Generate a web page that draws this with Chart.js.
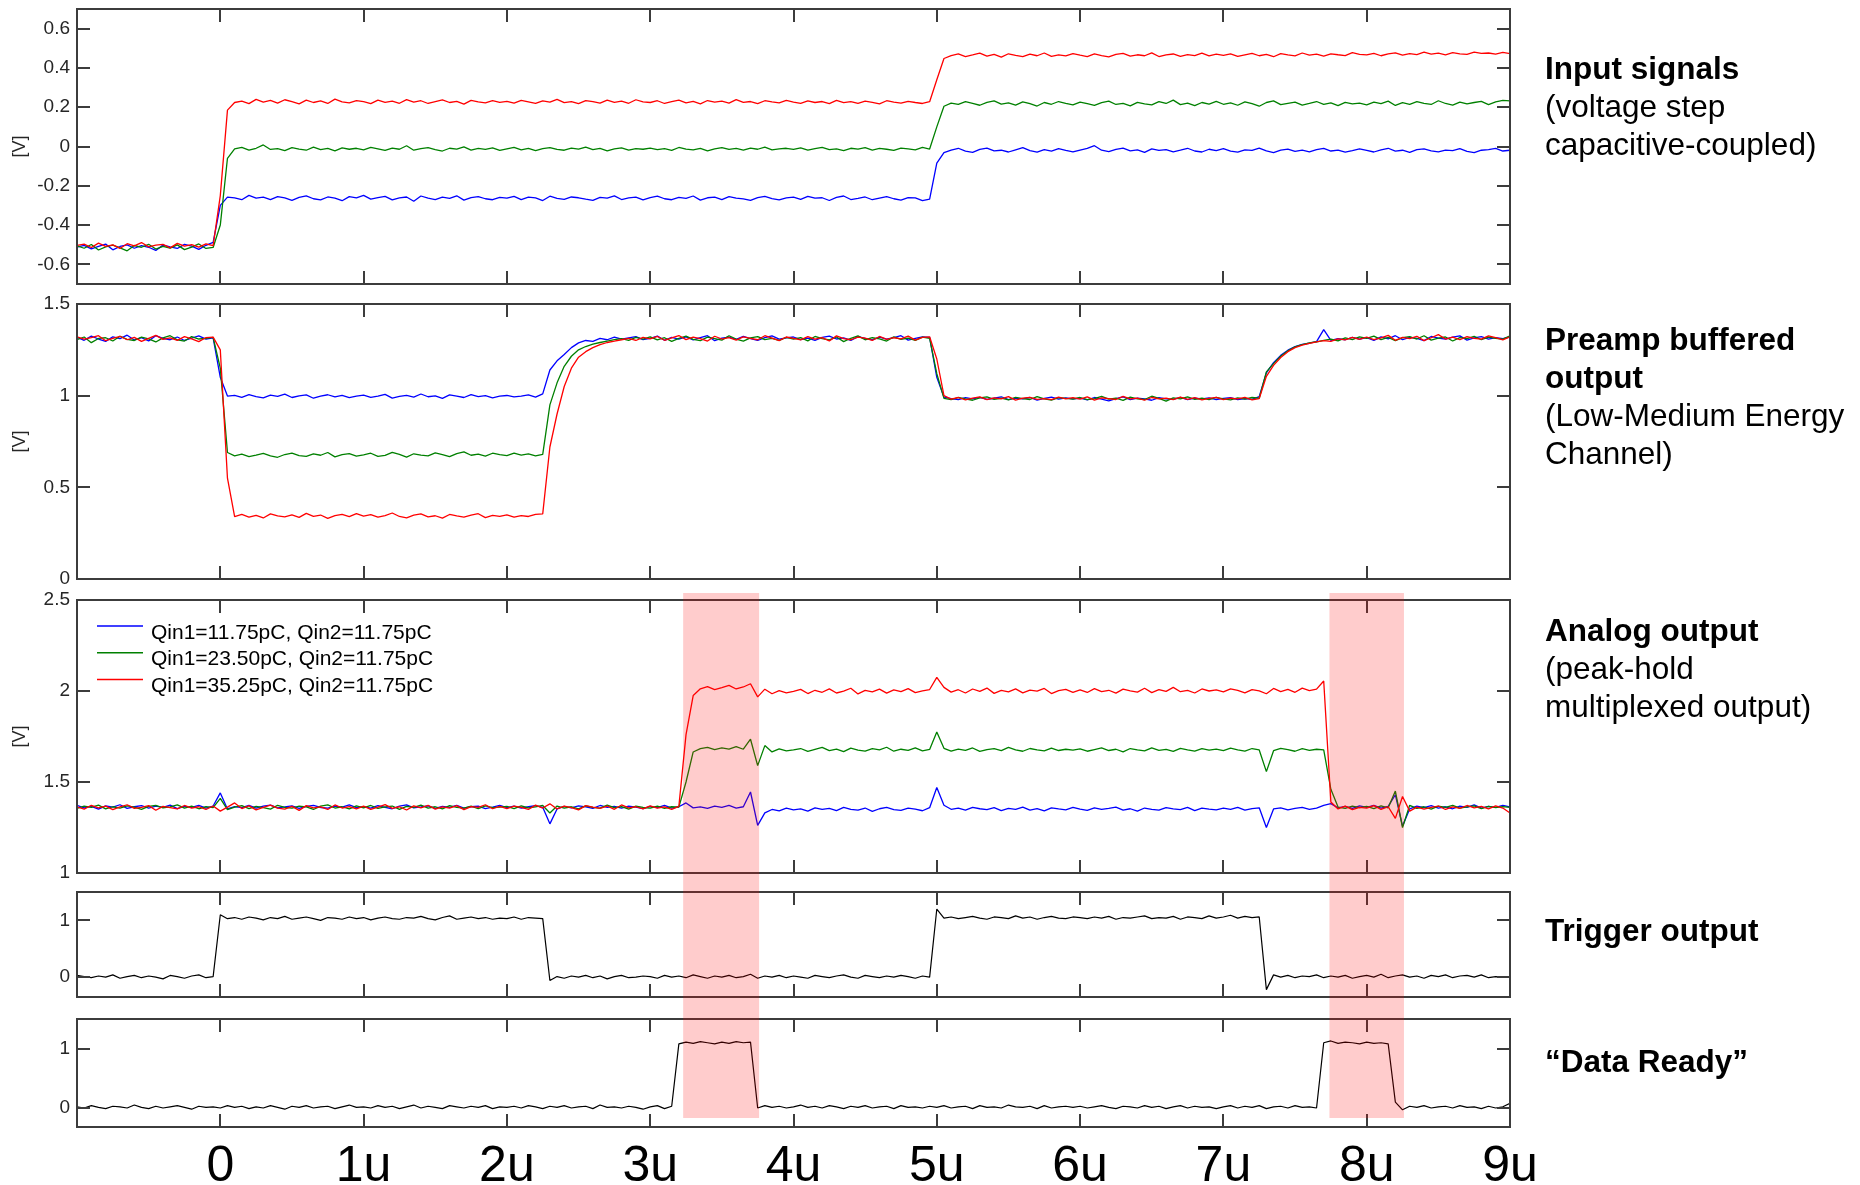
<!DOCTYPE html>
<html>
<head>
<meta charset="utf-8">
<title>Peak-hold readout timing</title>
<script src="https://cdn.jsdelivr.net/npm/chart.js@4.4.1/dist/chart.umd.min.js"></script>
<style>
  html, body { margin: 0; padding: 0; background: #fff; }
  #page { position: relative; width: 1860px; height: 1185px; overflow: hidden; font-family: "Liberation Sans", Arial, sans-serif; }
  .panel { position: absolute; left: 0; width: 1860px; }
  .panel canvas { display: block; }
  .note { position: absolute; left: 1545px; font-size: 31.5px; line-height: 38px; color: #000; white-space: nowrap; }
  .note b { font-weight: 700; }
</style>
</head>
<body>
<div id="page">
  <div class="panel" style="top:0px"><canvas id="chartInput" width="1860" height="294"></canvas></div>
  <div class="panel" style="top:294px"><canvas id="chartPreamp" width="1860" height="296"></canvas></div>
  <div class="panel" style="top:590px"><canvas id="chartAnalog" width="1860" height="293"></canvas></div>
  <div class="panel" style="top:883px"><canvas id="chartTrigger" width="1860" height="125"></canvas></div>
  <div class="panel" style="top:1008px"><canvas id="chartReady" width="1860" height="177"></canvas></div>

  <div class="note" style="top:49px"><b>Input signals</b><br>(voltage step<br>capacitive-coupled)</div>
  <div class="note" style="top:320px"><b>Preamp buffered<br>output</b><br>(Low-Medium Energy<br>Channel)</div>
  <div class="note" style="top:611px"><b>Analog output</b><br>(peak-hold<br>multiplexed output)</div>
  <div class="note" style="top:911px"><b>Trigger output</b></div>
  <div class="note" style="top:1042px"><b>“Data Ready”</b></div>
</div>

<script>
// sample instants in microseconds, one row per microsecond
const TIME_US = [
  -1,-0.95,-0.9,-0.85,-0.8,-0.75,-0.7,-0.65,-0.6,-0.55,-0.5,-0.45,-0.4,-0.35,-0.3,-0.25,-0.2,-0.15,-0.1,-0.05,
  0,0.05,0.1,0.15,0.2,0.25,0.3,0.35,0.4,0.45,0.5,0.55,0.6,0.65,0.7,0.75,0.8,0.85,0.9,0.95,
  1,1.05,1.1,1.15,1.2,1.25,1.3,1.35,1.4,1.45,1.5,1.55,1.6,1.65,1.7,1.75,1.8,1.85,1.9,1.95,
  2,2.05,2.1,2.15,2.2,2.25,2.3,2.35,2.4,2.45,2.5,2.55,2.6,2.65,2.7,2.75,2.8,2.85,2.9,2.95,
  3,3.05,3.1,3.15,3.2,3.25,3.3,3.35,3.4,3.45,3.5,3.55,3.6,3.65,3.7,3.75,3.8,3.85,3.9,3.95,
  4,4.05,4.1,4.15,4.2,4.25,4.3,4.35,4.4,4.45,4.5,4.55,4.6,4.65,4.7,4.75,4.8,4.85,4.9,4.95,
  5,5.05,5.1,5.15,5.2,5.25,5.3,5.35,5.4,5.45,5.5,5.55,5.6,5.65,5.7,5.75,5.8,5.85,5.9,5.95,
  6,6.05,6.1,6.15,6.2,6.25,6.3,6.35,6.4,6.45,6.5,6.55,6.6,6.65,6.7,6.75,6.8,6.85,6.9,6.95,
  7,7.05,7.1,7.15,7.2,7.25,7.3,7.35,7.4,7.45,7.5,7.55,7.6,7.65,7.7,7.75,7.8,7.85,7.9,7.95,
  8,8.05,8.1,8.15,8.2,8.25,8.3,8.35,8.4,8.45,8.5,8.55,8.6,8.65,8.7,8.75,8.8,8.85,8.9,8.95,9
];

const X_TICKS = [0, 1, 2, 3, 4, 5, 6, 7, 8, 9];
const X_TICK_LABELS = ['0', '1u', '2u', '3u', '4u', '5u', '6u', '7u', '8u', '9u'];

const SERIES_LABELS = [
  'Qin1=11.75pC, Qin2=11.75pC',
  'Qin1=23.50pC, Qin2=11.75pC',
  'Qin1=35.25pC, Qin2=11.75pC'
];

// peak-hold readout windows (µs)
const HOLD_WINDOWS_US = [[3.23, 3.76], [7.74, 8.26]];

const Y_TICKS_INPUT = [-0.6, -0.4, -0.2, 0, 0.2, 0.4, 0.6];
const Y_TICKS_PREAMP = [0, 0.5, 1, 1.5];
const Y_TICKS_ANALOG = [1, 1.5, 2, 2.5];
const Y_TICKS_LOGIC = [0, 1];

// input voltage steps [V]
const IN_BLUE = [
  -0.512,-0.503,-0.521,-0.508,-0.497,-0.526,-0.509,-0.501,-0.518,-0.505,-0.513,-0.529,-0.502,-0.511,-0.519,-0.498,-0.507,-0.524,-0.503,-0.488,
  -0.300,-0.258,-0.262,-0.271,-0.249,-0.263,-0.258,-0.270,-0.255,-0.262,-0.274,-0.259,-0.251,-0.266,-0.272,-0.257,-0.263,-0.276,-0.255,-0.261,
  -0.249,-0.268,-0.260,-0.254,-0.272,-0.262,-0.257,-0.279,-0.252,-0.263,-0.270,-0.258,-0.264,-0.251,-0.273,-0.260,-0.255,-0.266,-0.271,-0.259,
  -0.263,-0.254,-0.270,-0.258,-0.262,-0.275,-0.253,-0.264,-0.269,-0.257,-0.261,-0.268,-0.274,-0.259,-0.263,-0.251,-0.270,-0.262,-0.258,-0.272,
  -0.260,-0.253,-0.266,-0.271,-0.259,-0.264,-0.252,-0.273,-0.261,-0.258,-0.270,-0.255,-0.263,-0.267,-0.274,-0.260,-0.254,-0.265,-0.272,-0.262,
  -0.258,-0.269,-0.254,-0.263,-0.261,-0.275,-0.259,-0.252,-0.270,-0.264,-0.257,-0.271,-0.263,-0.255,-0.266,-0.273,-0.260,-0.262,-0.276,-0.268,
  -0.085,-0.031,-0.018,-0.009,-0.024,-0.030,-0.015,-0.008,-0.022,-0.019,-0.028,-0.017,-0.006,-0.021,-0.029,-0.016,-0.023,-0.011,-0.020,-0.027,
  -0.018,-0.010,0.004,-0.019,-0.026,-0.015,-0.008,-0.022,-0.017,-0.030,-0.012,-0.020,-0.016,-0.027,-0.019,-0.009,-0.023,-0.028,-0.014,-0.021,
  -0.011,-0.024,-0.029,-0.017,-0.020,-0.008,-0.022,-0.031,-0.018,-0.013,-0.025,-0.019,-0.027,-0.016,-0.010,-0.023,-0.018,-0.029,-0.021,-0.012,
  -0.020,-0.028,-0.017,-0.009,-0.024,-0.019,-0.030,-0.016,-0.012,-0.022,-0.027,-0.018,-0.021,-0.011,-0.025,-0.031,-0.019,-0.016,-0.010,-0.023,-0.019
];
const IN_GREEN = [
  -0.506,-0.518,-0.499,-0.527,-0.511,-0.502,-0.516,-0.531,-0.504,-0.513,-0.498,-0.522,-0.509,-0.517,-0.501,-0.525,-0.512,-0.496,-0.519,-0.514,
  -0.400,-0.060,-0.012,-0.004,-0.018,-0.009,0.008,-0.015,-0.011,-0.021,-0.006,-0.013,-0.019,-0.003,-0.016,-0.010,-0.022,-0.007,-0.014,-0.009,
  -0.017,-0.005,-0.012,-0.020,-0.008,-0.014,0.004,-0.019,-0.011,-0.006,-0.016,-0.023,-0.009,-0.013,-0.002,-0.018,-0.010,-0.015,-0.007,-0.020,
  -0.012,-0.004,-0.017,-0.009,-0.021,-0.011,-0.006,-0.015,-0.019,-0.008,-0.013,-0.003,-0.016,-0.010,-0.022,-0.012,-0.007,-0.018,-0.011,-0.014,
  -0.008,-0.016,-0.011,-0.020,-0.005,-0.013,-0.017,-0.009,-0.022,-0.012,-0.006,-0.015,-0.010,-0.019,-0.008,-0.014,-0.003,-0.017,-0.012,-0.009,
  -0.015,-0.007,-0.019,-0.011,-0.004,-0.016,-0.012,-0.021,-0.009,-0.013,-0.006,-0.018,-0.010,-0.014,-0.020,-0.008,-0.012,-0.017,-0.005,-0.013,
  0.100,0.205,0.221,0.214,0.228,0.219,0.210,0.225,0.232,0.216,0.222,0.211,0.227,0.218,0.206,0.224,0.215,0.229,0.220,0.212,
  0.226,0.218,0.209,0.223,0.231,0.214,0.220,0.207,0.225,0.217,0.212,0.228,0.219,0.236,0.213,0.221,0.208,0.224,0.216,0.230,
  0.215,0.222,0.210,0.227,0.218,0.205,0.224,0.232,0.213,0.220,0.226,0.211,0.219,0.229,0.214,0.222,0.208,0.225,0.217,0.221,
  0.212,0.226,0.218,0.231,0.209,0.223,0.215,0.228,0.220,0.214,0.233,0.219,0.211,0.226,0.217,0.224,0.230,0.213,0.227,0.235,0.232
];
const IN_RED = [
  -0.503,-0.497,-0.514,-0.492,-0.508,-0.501,-0.519,-0.495,-0.506,-0.489,-0.511,-0.502,-0.498,-0.516,-0.493,-0.507,-0.500,-0.512,-0.496,-0.505,
  -0.250,0.185,0.224,0.231,0.218,0.240,0.226,0.235,0.221,0.238,0.229,0.217,0.236,0.224,0.232,0.219,0.241,0.227,0.222,0.234,
  0.228,0.218,0.236,0.225,0.231,0.220,0.239,0.226,0.233,0.219,0.228,0.237,0.224,0.230,0.216,0.235,0.227,0.222,0.233,0.225,
  0.230,0.221,0.235,0.227,0.219,0.232,0.226,0.240,0.223,0.229,0.218,0.234,0.228,0.221,0.236,0.225,0.231,0.220,0.238,0.227,
  0.224,0.233,0.219,0.228,0.236,0.222,0.230,0.217,0.234,0.226,0.231,0.221,0.239,0.225,0.229,0.218,0.233,0.227,0.222,0.235,
  0.226,0.219,0.232,0.224,0.229,0.218,0.235,0.223,0.228,0.220,0.231,0.225,0.217,0.233,0.226,0.221,0.230,0.224,0.219,0.228,
  0.340,0.448,0.463,0.471,0.458,0.466,0.475,0.460,0.469,0.455,0.472,0.464,0.457,0.470,0.462,0.476,0.459,0.467,0.461,0.473,
  0.465,0.458,0.471,0.463,0.456,0.469,0.474,0.460,0.467,0.462,0.477,0.458,0.466,0.471,0.459,0.468,0.463,0.475,0.461,0.470,
  0.464,0.472,0.459,0.467,0.474,0.462,0.469,0.457,0.473,0.466,0.461,0.476,0.465,0.470,0.460,0.472,0.467,0.463,0.478,0.469,
  0.466,0.474,0.462,0.471,0.477,0.465,0.473,0.468,0.480,0.470,0.475,0.467,0.478,0.472,0.469,0.481,0.474,0.476,0.470,0.479,0.473
];

// preamp buffered output [V]
const PRE_BLUE = [
  1.318,1.302,1.325,1.309,1.296,1.321,1.311,1.330,1.304,1.316,1.299,1.327,1.312,1.305,1.320,1.301,1.314,1.326,1.308,1.315,
  1.100,0.998,1.002,0.991,1.006,0.995,0.988,1.003,0.996,1.008,0.990,0.999,1.004,0.986,0.997,1.005,0.993,1.001,0.989,0.998,
  1.003,0.991,0.998,1.007,0.987,0.996,1.002,0.992,1.009,0.994,0.999,0.985,1.004,0.997,0.990,1.006,0.995,1.000,0.988,0.997,
  1.001,0.993,0.998,1.004,0.992,1.010,1.140,1.190,1.225,1.262,1.288,1.301,1.296,1.312,1.305,1.319,1.308,1.315,1.322,1.306,
  1.313,1.325,1.302,1.318,1.309,1.321,1.304,1.316,1.327,1.300,1.314,1.319,1.307,1.323,1.311,1.301,1.317,1.326,1.308,1.315,
  1.320,1.306,1.314,1.302,1.318,1.325,1.309,1.315,1.301,1.322,1.312,1.304,1.319,1.308,1.316,1.327,1.303,1.313,1.321,1.318,
  1.100,0.992,0.984,0.978,0.989,0.983,0.991,0.980,0.986,0.994,0.979,0.987,0.982,0.990,0.976,0.985,0.992,0.981,0.988,0.983,
  0.986,0.977,0.990,0.981,0.972,0.984,0.993,0.979,0.987,0.982,0.975,0.989,0.983,0.980,0.991,0.978,0.986,0.982,0.988,0.979,
  0.985,0.989,0.978,0.984,0.980,0.995,1.125,1.180,1.220,1.248,1.268,1.280,1.286,1.295,1.360,1.302,1.311,1.305,1.318,1.309,
  1.316,1.302,1.321,1.310,1.327,1.305,1.318,1.312,1.300,1.323,1.314,1.308,1.319,1.326,1.303,1.315,1.322,1.309,1.317,1.311,1.320
];
const PRE_GREEN = [
  1.305,1.320,1.289,1.312,1.316,1.298,1.324,1.307,1.301,1.319,1.310,1.293,1.315,1.327,1.304,1.298,1.322,1.309,1.313,1.318,
  1.150,0.690,0.672,0.681,0.668,0.676,0.685,0.671,0.664,0.679,0.687,0.673,0.669,0.682,0.675,0.690,0.666,0.678,0.684,0.670,
  0.677,0.686,0.669,0.674,0.691,0.680,0.665,0.683,0.676,0.672,0.688,0.679,0.667,0.684,0.693,0.675,0.681,0.670,0.686,0.678,
  0.673,0.687,0.676,0.682,0.671,0.680,0.950,1.070,1.160,1.215,1.250,1.268,1.281,1.290,1.298,1.306,1.311,1.302,1.318,1.309,
  1.321,1.304,1.316,1.296,1.312,1.325,1.307,1.300,1.319,1.311,1.303,1.327,1.309,1.298,1.315,1.322,1.306,1.313,1.301,1.318,
  1.308,1.317,1.299,1.323,1.311,1.304,1.320,1.295,1.313,1.326,1.305,1.316,1.310,1.298,1.321,1.307,1.314,1.302,1.319,1.312,
  1.120,0.985,0.978,0.990,0.982,0.975,0.988,0.993,0.980,0.986,0.977,0.991,0.984,0.979,0.995,0.983,0.976,0.989,0.985,0.981,
  0.990,0.978,0.984,0.996,0.981,0.987,0.974,0.992,0.983,0.979,0.997,0.985,0.970,0.988,0.982,0.993,0.980,0.986,0.978,0.991,
  0.983,0.977,0.988,0.981,0.990,0.986,1.130,1.175,1.215,1.245,1.266,1.279,1.288,1.294,1.301,1.308,1.299,1.315,1.306,1.321,
  1.312,1.325,1.306,1.318,1.300,1.316,1.322,1.309,1.327,1.303,1.314,1.320,1.298,1.317,1.311,1.324,1.305,1.319,1.313,1.308,1.326
];
const PRE_RED = [
  1.321,1.308,1.316,1.327,1.300,1.312,1.324,1.305,1.318,1.296,1.313,1.329,1.307,1.315,1.302,1.322,1.310,1.295,1.317,1.319,
  1.250,0.550,0.340,0.352,0.338,0.347,0.333,0.355,0.344,0.339,0.350,0.336,0.358,0.342,0.349,0.331,0.346,0.353,0.340,0.357,
  0.343,0.351,0.337,0.346,0.360,0.341,0.334,0.348,0.355,0.339,0.345,0.332,0.352,0.344,0.338,0.349,0.356,0.335,0.347,0.342,
  0.350,0.337,0.346,0.341,0.353,0.355,0.720,0.900,1.050,1.150,1.210,1.240,1.262,1.278,1.290,1.297,1.305,1.312,1.301,1.318,
  1.310,1.323,1.302,1.315,1.328,1.306,1.319,1.311,1.298,1.324,1.309,1.316,1.303,1.321,1.312,1.305,1.327,1.314,1.300,1.320,
  1.313,1.304,1.322,1.309,1.317,1.298,1.326,1.311,1.305,1.319,1.314,1.301,1.323,1.307,1.316,1.310,1.325,1.303,1.318,1.321,
  1.200,1.000,0.981,0.990,0.977,0.986,0.993,0.979,0.988,0.982,0.995,0.976,0.987,0.991,0.980,0.984,0.978,0.992,0.983,0.989,
  0.981,0.993,0.976,0.988,0.984,0.979,0.996,0.982,0.987,0.975,0.990,0.983,0.986,0.978,0.992,0.980,0.989,0.977,0.985,0.991,
  0.978,0.986,0.982,0.991,0.977,0.984,1.105,1.165,1.208,1.240,1.262,1.276,1.285,1.293,1.300,1.296,1.310,1.304,1.318,1.307,
  1.320,1.306,1.315,1.329,1.302,1.318,1.311,1.324,1.300,1.316,1.333,1.309,1.319,1.305,1.322,1.313,1.308,1.326,1.317,1.304,1.321
];

// peak-hold analog output [V]
const ANA_BLUE = [
  1.372,1.358,1.366,1.351,1.369,1.362,1.375,1.355,1.364,1.370,1.357,1.367,1.361,1.373,1.354,1.366,1.360,1.371,1.356,1.368,
  1.440,1.352,1.365,1.359,1.371,1.356,1.367,1.373,1.358,1.363,1.369,1.355,1.366,1.372,1.360,1.357,1.368,1.362,1.374,1.359,
  1.365,1.356,1.370,1.361,1.353,1.367,1.374,1.358,1.363,1.369,1.355,1.366,1.360,1.372,1.357,1.364,1.368,1.354,1.362,1.371,
  1.359,1.367,1.356,1.364,1.370,1.361,1.270,1.352,1.366,1.358,1.369,1.363,1.355,1.371,1.360,1.366,1.357,1.368,1.362,1.354,
  1.366,1.359,1.372,1.356,1.364,1.385,1.358,1.363,1.355,1.367,1.360,1.371,1.357,1.364,1.445,1.262,1.330,1.349,1.341,1.356,
  1.347,1.352,1.340,1.358,1.349,1.355,1.343,1.361,1.350,1.346,1.357,1.339,1.353,1.360,1.348,1.344,1.356,1.351,1.342,1.359,
  1.470,1.372,1.350,1.357,1.345,1.361,1.353,1.348,1.359,1.343,1.355,1.350,1.362,1.346,1.354,1.341,1.358,1.352,1.347,1.360,
  1.351,1.344,1.358,1.349,1.355,1.362,1.346,1.353,1.340,1.357,1.350,1.345,1.359,1.352,1.348,1.361,1.343,1.356,1.351,1.347,
  1.356,1.349,1.360,1.345,1.354,1.358,1.250,1.352,1.358,1.347,1.355,1.361,1.350,1.357,1.372,1.381,1.358,1.366,1.355,1.369,
  1.361,1.372,1.357,1.366,1.430,1.258,1.352,1.367,1.359,1.370,1.356,1.364,1.353,1.368,1.361,1.374,1.357,1.366,1.360,1.371,1.363
];
const ANA_GREEN = [
  1.355,1.368,1.360,1.373,1.352,1.364,1.357,1.369,1.362,1.350,1.366,1.371,1.358,1.363,1.374,1.356,1.367,1.353,1.365,1.359,
  1.410,1.348,1.362,1.370,1.354,1.366,1.359,1.351,1.372,1.361,1.356,1.368,1.363,1.349,1.367,1.374,1.357,1.364,1.352,1.369,
  1.358,1.371,1.355,1.363,1.368,1.350,1.366,1.360,1.373,1.356,1.364,1.352,1.370,1.361,1.357,1.367,1.353,1.369,1.359,1.362,
  1.366,1.354,1.369,1.358,1.363,1.371,1.330,1.368,1.357,1.364,1.352,1.369,1.361,1.356,1.373,1.359,1.365,1.351,1.367,1.360,
  1.357,1.368,1.355,1.364,1.362,1.500,1.665,1.683,1.690,1.678,1.687,1.681,1.694,1.680,1.735,1.590,1.700,1.665,1.682,1.671,
  1.676,1.684,1.668,1.679,1.690,1.672,1.681,1.667,1.686,1.675,1.670,1.683,1.677,1.691,1.669,1.680,1.674,1.688,1.671,1.679,
  1.775,1.685,1.670,1.681,1.674,1.687,1.668,1.678,1.683,1.672,1.690,1.676,1.669,1.684,1.677,1.671,1.686,1.673,1.680,1.675,
  1.682,1.669,1.678,1.687,1.673,1.680,1.666,1.684,1.676,1.671,1.688,1.674,1.679,1.668,1.685,1.677,1.670,1.683,1.675,1.681,
  1.673,1.686,1.677,1.670,1.684,1.676,1.557,1.672,1.685,1.678,1.669,1.683,1.674,1.680,1.677,1.460,1.362,1.355,1.368,1.359,
  1.366,1.354,1.369,1.358,1.450,1.250,1.372,1.355,1.364,1.351,1.367,1.360,1.372,1.356,1.363,1.369,1.354,1.366,1.359,1.365,1.361
];
const ANA_RED = [
  1.364,1.351,1.372,1.358,1.367,1.348,1.363,1.375,1.355,1.361,1.370,1.345,1.366,1.359,1.352,1.371,1.357,1.364,1.349,1.368,
  1.340,1.362,1.385,1.354,1.369,1.347,1.360,1.373,1.356,1.351,1.366,1.344,1.370,1.358,1.363,1.349,1.374,1.357,1.365,1.352,
  1.367,1.350,1.362,1.376,1.355,1.364,1.346,1.369,1.358,1.372,1.351,1.363,1.357,1.370,1.348,1.365,1.360,1.375,1.353,1.366,
  1.354,1.368,1.361,1.349,1.373,1.357,1.380,1.352,1.367,1.359,1.347,1.370,1.362,1.355,1.368,1.350,1.374,1.358,1.364,1.352,
  1.369,1.356,1.363,1.350,1.366,1.760,1.975,2.012,2.024,2.008,2.019,2.031,2.011,2.022,2.040,1.968,2.010,1.985,2.002,1.990,
  1.998,2.009,1.986,2.004,1.993,2.012,1.989,1.999,2.015,1.984,2.003,1.995,2.010,1.988,2.006,1.997,2.013,1.991,2.001,2.008,
  2.075,2.020,1.994,2.007,1.989,2.011,1.998,2.016,1.987,2.003,1.995,2.012,1.990,2.005,1.999,2.014,1.986,2.002,2.009,1.993,
  2.006,1.992,2.013,1.997,2.004,1.988,2.010,2.001,1.994,2.015,1.991,2.007,1.998,2.020,1.996,2.003,1.989,2.011,2.000,2.006,
  1.995,2.012,2.003,1.990,2.008,2.001,1.985,2.014,1.997,2.009,1.993,2.016,2.002,2.010,2.055,1.390,1.352,1.367,1.348,1.361,
  1.357,1.370,1.349,1.364,1.300,1.420,1.340,1.362,1.351,1.360,1.368,1.349,1.363,1.355,1.371,1.358,1.366,1.352,1.369,1.357,1.330
];

// logic outputs (normalised)
const TRIGGER = [
  0.03,0.01,-0.01,0.02,0,0.04,-0.02,0.01,0.03,-0.01,0.02,0,-0.03,0.03,0.01,-0.02,0.02,0.04,-0.01,0.01,
  1.10,1.03,1.05,1.02,1.06,1.04,1.01,1.05,1.03,1.07,1.02,1.04,1.06,1.03,1.00,1.05,1.04,1.02,1.06,1.03,
  1.05,1.01,1.04,1.06,1.03,1.02,1.05,1.04,1.07,1.03,1.01,1.05,1.08,1.02,1.04,1.06,1.03,1.05,1.02,1.04,
  1.03,1.06,1.02,1.05,1.04,1.03,-0.06,0.01,-0.02,0.02,0,0.03,-0.01,0.02,-0.03,0.01,0.03,-0.01,0,0.02,
  0.01,-0.02,0.03,0,0.02,-0.01,0.04,0.01,-0.02,0.02,0,0.03,-0.01,0.01,0.05,-0.02,0.02,0,0.03,-0.01,
  0.02,0,-0.02,0.03,0.01,-0.01,0.02,0.04,0,-0.02,0.03,0.01,-0.01,0.02,0,0.03,0.01,-0.02,0.02,0,
  1.20,1.04,1.06,1.03,1.05,1.07,1.04,1.02,1.06,1.05,1.03,1.08,1.04,1.06,1.02,1.05,1.07,1.04,1.03,1.06,
  1.05,1.03,1.06,1.04,1.07,1.02,1.05,1.04,1.06,1.08,1.03,1.05,1.04,1.07,1.02,1.06,1.05,1.03,1.08,1.04,
  1.06,1.09,1.04,1.07,1.05,1.06,-0.22,0.04,0,0.03,-0.01,0.02,0.01,0.04,-0.01,0.02,0,0.03,-0.02,0.01,
  0.03,0,0.05,-0.01,0.02,0.04,0,0.02,-0.02,0.03,0.01,0.04,-0.01,0.02,0.03,0,0.04,-0.01,0.01,0,0.01
];
const DATA_READY = [
  0.02,0,0.04,0.01,-0.01,0.03,0.02,0,0.05,0.01,-0.01,0.03,0,0.02,0.04,0.01,-0.02,0.03,0.01,0.02,
  0,0.04,0.01,0.03,-0.01,0.02,0,0.04,0.01,-0.02,0.03,0.01,0.04,0,0.02,0.03,-0.01,0.02,0.05,0.01,
  0.02,0,0.04,0.01,0.03,-0.01,0.02,0.05,0,0.03,0.01,-0.01,0.04,0.02,0,0.03,0.01,0.04,-0.01,0.02,
  0.01,0.03,0,0.04,0.02,-0.01,0.03,0.01,0.04,0,0.02,0.03,-0.01,0.05,0.01,0.02,0,0.03,0.01,-0.02,
  0.02,0.04,-0.01,0.03,1.08,1.11,1.09,1.12,1.10,1.08,1.11,1.09,1.12,1.10,1.11,0,0.04,0.01,0.03,0,
  0.02,0.05,0.01,0.03,0,0.04,0.02,-0.01,0.03,0.01,0.04,0,0.02,0.03,-0.01,0.04,0.01,0.02,0,0.03,
  0.01,0.04,0,0.02,0.03,-0.01,0.04,0.01,0.02,0,0.05,0.02,0.01,0.03,-0.01,0.04,0,0.02,0.03,0.01,
  0.03,0,0.02,0.04,0.01,-0.01,0.03,0.02,0,0.04,0.01,0.03,-0.01,0.02,0.04,0,0.03,0.01,0.02,-0.01,
  0.02,0.04,0,0.03,0.01,0.04,-0.01,0.02,0.03,0,0.04,0.01,0.02,0,1.10,1.13,1.09,1.11,1.10,1.08,
  1.11,1.09,1.10,1.08,0.10,-0.03,0.03,0.01,0.04,0,0.02,0.03,0,0.04,0.01,0.02,-0.01,0.03,0,0.02,0.08
];

Chart.defaults.font.family = '"Liberation Sans", Arial, sans-serif';

const TRACE_COLORS = ['#0000ff', '#008000', '#ff0000'];
const FRAME_COLOR = '#3c3c3c';

// box around the plot area with inward ticks on all four sides
const panelFrame = {
  id: 'panelFrame',
  afterDatasetsDraw(chart) {
    const { ctx, chartArea: a, scales: { x, y } } = chart;
    const len = 13;
    ctx.save();
    ctx.strokeStyle = FRAME_COLOR;
    ctx.lineWidth = 2;
    ctx.beginPath();
    X_TICKS.forEach(v => {
      const px = Math.round(x.getPixelForValue(v));
      ctx.moveTo(px, a.top); ctx.lineTo(px, a.top + len);
      ctx.moveTo(px, a.bottom); ctx.lineTo(px, a.bottom - len);
    });
    y.ticks.forEach(t => {
      const py = Math.round(y.getPixelForValue(t.value));
      if (py <= a.top + 1 || py >= a.bottom - 1) return;
      ctx.moveTo(a.left, py); ctx.lineTo(a.left + len, py);
      ctx.moveTo(a.right, py); ctx.lineTo(a.right - len, py);
    });
    ctx.stroke();
    ctx.strokeRect(a.left, a.top, a.right - a.left, a.bottom - a.top);
    ctx.restore();
  }
};

// legend drawn inside the plot, line samples level with the text tops
const inlineLegend = {
  id: 'inlineLegend',
  afterDraw(chart, args, opts) {
    if (!opts.show) return;
    const ctx = chart.ctx;
    ctx.save();
    ctx.font = '21px "Liberation Sans", Arial, sans-serif';
    ctx.textBaseline = 'middle';
    ctx.textAlign = 'left';
    chart.data.datasets.forEach((ds, i) => {
      const yy = opts.y + i * opts.rowHeight;
      ctx.strokeStyle = ds.borderColor;
      ctx.lineWidth = 1.5;
      ctx.beginPath();
      ctx.moveTo(opts.x, yy);
      ctx.lineTo(opts.x + opts.lineLength, yy);
      ctx.stroke();
      ctx.fillStyle = '#000';
      ctx.fillText(ds.label, opts.x + opts.lineLength + 8, yy + 7);
    });
    ctx.restore();
  }
};

// translucent band over the readout windows
const holdShade = {
  id: 'holdShade',
  afterDraw(chart, args, opts) {
    if (!opts.show) return;
    const { ctx, scales: { x } } = chart;
    ctx.save();
    ctx.fillStyle = 'rgba(255, 0, 0, 0.2)';
    HOLD_WINDOWS_US.forEach(([t0, t1]) => {
      const a = x.getPixelForValue(t0);
      const b = x.getPixelForValue(t1);
      ctx.fillRect(a, opts.top, b - a, opts.bottom - opts.top);
    });
    ctx.restore();
  }
};

function colouredTraces(series) {
  return series.map((values, i) => ({
    label: SERIES_LABELS[i],
    data: values,
    borderColor: TRACE_COLORS[i],
    backgroundColor: TRACE_COLORS[i],
    borderWidth: 1.3,
    order: 3 - i
  }));
}

function blackTrace(values) {
  return [{ label: '', data: values, borderColor: '#000', backgroundColor: '#000', borderWidth: 1.2 }];
}

function makePanel(canvasId, cfg) {
  const showX = !!cfg.xLabels;
  return new Chart(document.getElementById(canvasId), {
    type: 'line',
    data: { labels: TIME_US, datasets: cfg.datasets },
    plugins: [panelFrame, inlineLegend, holdShade],
    options: {
      responsive: false,
      devicePixelRatio: 1,
      animation: false,
      events: [],
      layout: { padding: { top: cfg.padTop, bottom: cfg.padBottom, left: 0, right: 350 } },
      elements: {
        point: { radius: 0 },
        line: { tension: 0, fill: false, borderJoinStyle: 'bevel' }
      },
      scales: {
        x: {
          type: 'linear',
          min: -1,
          max: 9,
          display: showX,
          position: 'bottom',
          grid: { display: false, drawTicks: false },
          border: { display: false },
          ticks: {
            autoSkip: false,
            maxRotation: 0,
            padding: 10,
            color: '#000',
            font: { size: 50 },
            callback: (v, i) => X_TICK_LABELS[i]
          },
          afterBuildTicks: s => { s.ticks = X_TICKS.map(v => ({ value: v })); },
          afterFit: s => {
            s.paddingLeft = 0;
            s.paddingRight = 0;
            if (showX) s.height = 58;
          }
        },
        y: {
          min: cfg.min,
          max: cfg.max,
          position: 'left',
          grid: { display: false, drawTicks: false },
          border: { display: false },
          ticks: {
            padding: 7,
            color: '#262626',
            font: { size: 19 },
            callback: v => String(v)
          },
          title: {
            display: !!cfg.title,
            text: cfg.title || '',
            color: '#262626',
            font: { size: 18 },
            padding: { top: 9, bottom: 0 }
          },
          afterBuildTicks: s => { s.ticks = cfg.yTicks.map(v => ({ value: v })); },
          afterFit: s => {
            s.width = 77;
            s.paddingTop = 0;
            s.paddingBottom = 0;
          }
        }
      },
      plugins: {
        legend: { display: false },
        tooltip: { enabled: false },
        inlineLegend: cfg.legend || { show: false },
        holdShade: cfg.shade || { show: false }
      }
    }
  });
}

makePanel('chartInput', {
  datasets: colouredTraces([IN_BLUE, IN_GREEN, IN_RED]),
  min: -0.7, max: 0.7, yTicks: Y_TICKS_INPUT, title: '[V]',
  padTop: 9, padBottom: 10
});

makePanel('chartPreamp', {
  datasets: colouredTraces([PRE_BLUE, PRE_GREEN, PRE_RED]),
  min: 0, max: 1.5, yTicks: Y_TICKS_PREAMP, title: '[V]',
  padTop: 10, padBottom: 11
});

makePanel('chartAnalog', {
  datasets: colouredTraces([ANA_BLUE, ANA_GREEN, ANA_RED]),
  min: 1, max: 2.5, yTicks: Y_TICKS_ANALOG, title: '[V]',
  padTop: 10, padBottom: 10,
  legend: { show: true, x: 97, y: 36, lineLength: 46, rowHeight: 26.7 },
  shade: { show: true, top: 3, bottom: 293 }
});

makePanel('chartTrigger', {
  datasets: blackTrace(TRIGGER),
  min: -0.35, max: 1.5, yTicks: Y_TICKS_LOGIC,
  padTop: 9, padBottom: 11,
  shade: { show: true, top: 0, bottom: 125 }
});

makePanel('chartReady', {
  datasets: blackTrace(DATA_READY),
  min: -0.32, max: 1.5, yTicks: Y_TICKS_LOGIC,
  padTop: 11, padBottom: 0,
  xLabels: true,
  shade: { show: true, top: 0, bottom: 110 }
});
</script>
</body>
</html>
